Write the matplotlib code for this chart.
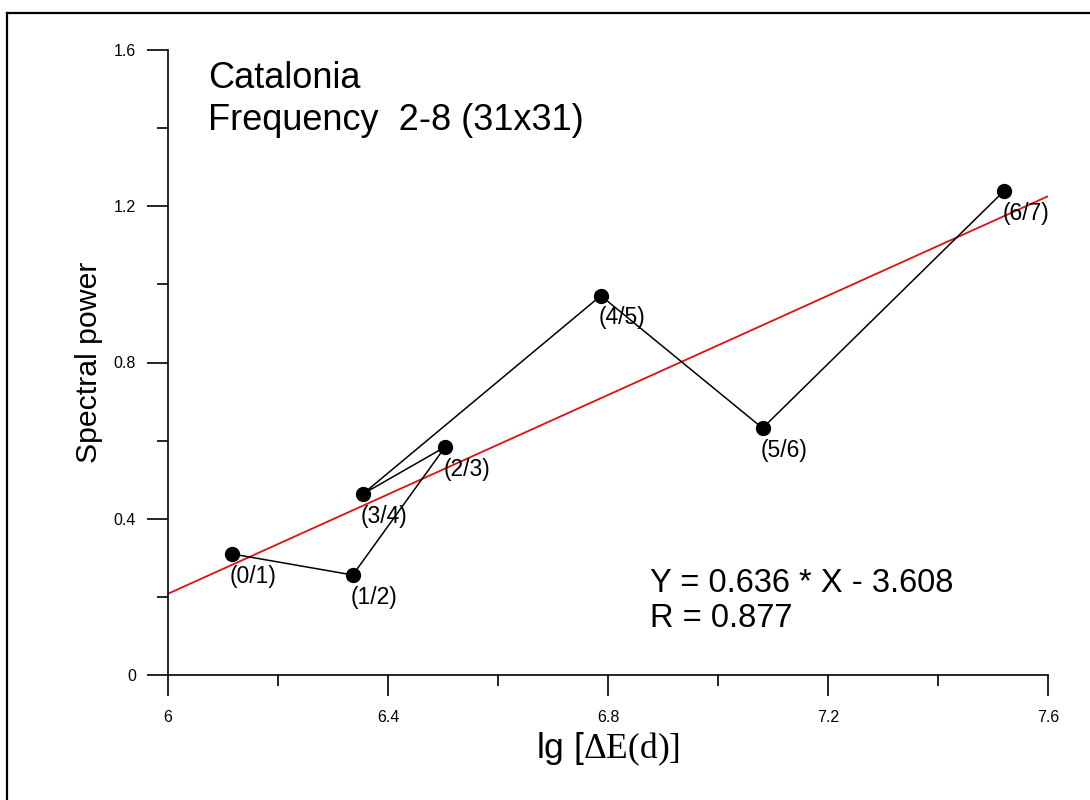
import matplotlib
matplotlib.use("Agg")
import matplotlib.pyplot as plt
from matplotlib.lines import Line2D
from matplotlib.ticker import MultipleLocator, FixedLocator, FixedFormatter

plt.rcParams['font.family'] = ['Liberation Sans', 'DejaVu Sans']
plt.rcParams['mathtext.fontset'] = 'custom'
plt.rcParams['mathtext.rm'] = 'Liberation Serif'

# Magnitude-interval pairs
pair_labels = ["(0/1)", "(1/2)", "(2/3)", "(3/4)", "(4/5)", "(5/6)", "(6/7)"]
lg_energy = [6.116, 6.336, 6.504, 6.354, 6.787, 7.081, 7.520]
spectral_power = [0.310, 0.256, 0.584, 0.463, 0.971, 0.632, 1.239]

# Linear fit
slope = 0.636
intercept = -3.608
r_value = 0.877
fit_x = [6.0, 7.6]

x_ticks = [6.0, 6.4, 6.8, 7.2, 7.6]
x_tick_labels = ["6", "6.4", "6.8", "7.2", "7.6"]
y_ticks = [0.0, 0.4, 0.8, 1.2, 1.6]
y_tick_labels = ["0", "0.4", "0.8", "1.2", "1.6"]

fig = plt.figure(figsize=(10.9, 8.0), dpi=100)
ax = fig.add_axes([168 / 1090, 1 - 675 / 800, 880 / 1090, 625 / 800])

# Frame lines around the drawing
fig.add_artist(Line2D([7 / 1090, 7 / 1090], [0, 1 - 13 / 800], transform=fig.transFigure,
                      color="black", lw=1.6))
fig.add_artist(Line2D([7 / 1090, 1], [1 - 13 / 800, 1 - 13 / 800], transform=fig.transFigure,
                      color="black", lw=1.6))

fit_y = [slope * x + intercept for x in fit_x]
ax.plot(fit_x, fit_y, color="#e01010", lw=1.3, zorder=2)
ax.plot(lg_energy, spectral_power, color="black", lw=1.1, marker="o", markersize=10,
        markerfacecolor="black", markeredgecolor="black", zorder=3)

for lbl, x, y in zip(pair_labels, lg_energy, spectral_power):
    ax.annotate(lbl, (x, y), xytext=(15.5, -16), textcoords="offset points",
                ha="center", va="center", fontsize=16.5)

ax.set_xlim(6.0, 7.6)
ax.set_ylim(0.0, 1.6)
ax.xaxis.set_major_locator(FixedLocator(x_ticks))
ax.xaxis.set_major_formatter(FixedFormatter(x_tick_labels))
ax.yaxis.set_major_locator(FixedLocator(y_ticks))
ax.yaxis.set_major_formatter(FixedFormatter(y_tick_labels))
ax.xaxis.set_minor_locator(MultipleLocator(0.2))
ax.yaxis.set_minor_locator(MultipleLocator(0.2))

for side in ("top", "right"):
    ax.spines[side].set_visible(False)
for side in ("left", "bottom"):
    ax.spines[side].set_linewidth(1.2)

ax.tick_params(which="major", direction="out", length=15, width=1.2, labelsize=11.5)
ax.tick_params(which="minor", direction="out", length=8, width=1.2)
ax.tick_params(axis="x", which="major", pad=10)
ax.tick_params(axis="y", which="major", pad=8)

ax.set_ylabel("Spectral power", fontsize=21.8, labelpad=8)
ax.set_xlabel(r"lg [$\mathrm{\Delta E(d)]}$", fontsize=25.5, labelpad=4)

ax.text(0.0455, 0.955, "Catalonia", transform=ax.transAxes, fontsize=26,
        ha="left", va="center")
ax.text(0.0455, 0.888, "Frequency  2-8 (31x31)", transform=ax.transAxes, fontsize=26,
        ha="left", va="center")

ax.text(0.5477, 0.147, f"Y = {slope:.3f} * X - {abs(intercept):.3f}", transform=ax.transAxes,
        fontsize=23.5, ha="left", va="center")
ax.text(0.5477, 0.091, f"R = {r_value:.3f}", transform=ax.transAxes,
        fontsize=23.5, ha="left", va="center")

fig.savefig("out.png", dpi=100, facecolor="white")
